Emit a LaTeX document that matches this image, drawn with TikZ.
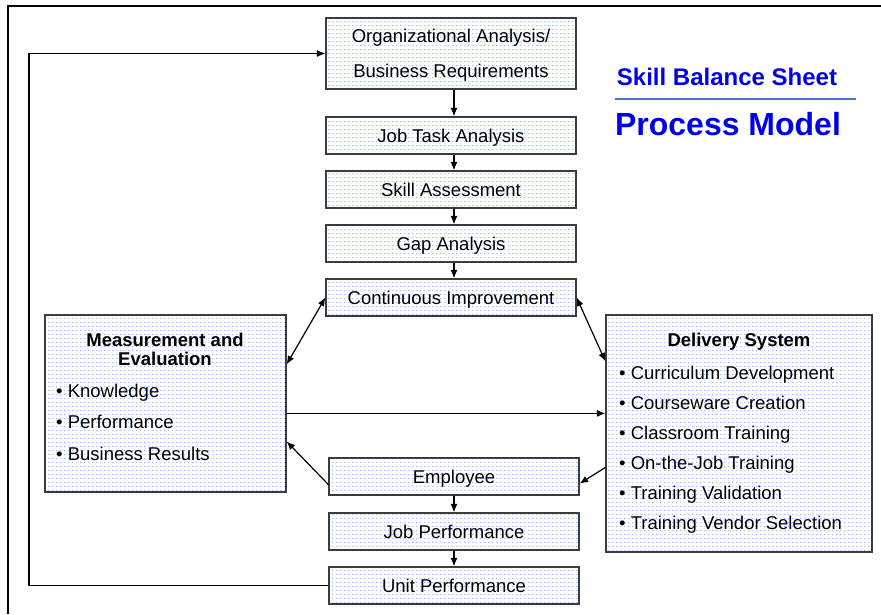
\documentclass[tikz,border=0pt]{standalone}
\usepackage{fontspec}
\setmainfont{Liberation Sans}
\usetikzlibrary{arrows.meta,calc,patterns}

% light blue dotted grid used as box fill
\pgfdeclarepatternformonly{griddots}{\pgfpointorigin}{\pgfpoint{4pt}{4pt}}{\pgfpoint{4pt}{4pt}}%
  {\pgfpathrectangle{\pgfpointorigin}{\pgfpoint{1.6pt}{1.2pt}}\pgfusepath{fill}}

\definecolor{dotblue}{RGB}{150,195,245}
\definecolor{boxline}{RGB}{60,60,60}
\definecolor{titleblue}{RGB}{0,0,235}
\definecolor{ruleblue}{RGB}{70,120,210}

\tikzset{
  procbox/.style={draw=boxline, line width=1.2pt, pattern=griddots, pattern color=dotblue,
    minimum width=250pt, minimum height=37pt, inner sep=0pt,
    font=\fontsize{18.5}{22}\selectfont, text height=13.2pt, text depth=0pt},
  bigbox/.style={draw=boxline, line width=1.2pt, pattern=griddots, pattern color=dotblue, inner sep=0pt},
  headtext/.style={font=\bfseries\fontsize{18.5}{19}\selectfont, inner sep=0pt, anchor=base},
  itemtext/.style={font=\fontsize{18.5}{22}\selectfont, inner sep=0pt, anchor=base west},
  arr/.style={-{Latex[length=8.5pt,width=7pt]}, line width=1.2pt},
  darr/.style={{Latex[length=8.5pt,width=7pt]}-{Latex[length=8.5pt,width=7pt]}, line width=1.2pt},
}

\begin{document}
\begin{tikzpicture}[x=1pt,y=-1pt]
\useasboundingbox (0,0) rectangle (881,614);

% outer frame
\draw[line width=1.6pt] (8,614) -- (8,6) -- (881,6);

% title
\node[font=\bfseries\fontsize{24}{26}\selectfont, text=titleblue, inner sep=0pt, anchor=base] (t1) at (727,85) {Skill Balance Sheet};
\draw[ruleblue, line width=2.5pt] (615,99) -- (856,99);
\node[font=\bfseries\fontsize{32}{34}\selectfont, text=titleblue, inner sep=0pt, anchor=base] (t2) at (728,135) {Process Model};

% main column
\node[procbox, minimum height=71pt, align=center, font=\fontsize{18.5}{35}\selectfont,
      text height=48.2pt, text depth=0pt] (org) at (451,53.5)
  {Organizational Analysis/\\Business Requirements};
\node[procbox] (jta) at (451,135.5) {Job Task Analysis};
\node[procbox] (ska) at (451,189.5) {Skill Assessment};
\node[procbox] (gap) at (451,243.5) {Gap Analysis};
\node[procbox] (ci)  at (451,297.5) {Continuous Improvement};
\node[procbox] (emp) at (454,476.5) {Employee};
\node[procbox] (jp)  at (454,531.5) {Job Performance};
\node[procbox] (up)  at (454,585.5) {Unit Performance};

% side boxes
\node[bigbox, minimum width=241pt, minimum height=177pt] (meas) at (165.5,403.5) {};
\node[headtext] (mh1) at (165,346) {Measurement and};
\node[headtext] (mh2) at (165,365) {Evaluation};
\node[itemtext] (m1) at (56,397) {• Knowledge};
\node[itemtext] (m2) at (56,428.5) {• Performance};
\node[itemtext] (m3) at (56,460) {• Business Results};

\node[bigbox, minimum width=266pt, minimum height=237pt] (dlv) at (739,433.5) {};
\node[headtext] (dh) at (739,346) {Delivery System};
\node[itemtext] (d1) at (619,379) {• Curriculum Development};
\node[itemtext] (d2) at (619,409) {• Courseware Creation};
\node[itemtext] (d3) at (619,439.5) {• Classroom Training};
\node[itemtext] (d4) at (619,469.5) {• On-the-Job Training};
\node[itemtext] (d5) at (619,499) {• Training Validation};
\node[itemtext] (d6) at (619,529) {• Training Vendor Selection};

% vertical flow
\draw[arr] (org.south -| emp.center) -- (jta.north -| emp.center);
\draw[arr] (jta.south -| emp.center) -- (ska.north -| emp.center);
\draw[arr] (ska.south -| emp.center) -- (gap.north -| emp.center);
\draw[arr] (gap.south -| emp.center) -- (ci.north -| emp.center);
\draw[arr] (emp.south) -- (jp.north);
\draw[arr] (jp.south) -- (up.north);

% improvement links
\draw[darr] (ci.west) -- ($(meas.north east)+(0,50)$);
\draw[darr] (ci.east) -- ($(dlv.north west)+(0,47)$);
\draw[arr] ($(meas.north east)+(0,99)$) -- ($(dlv.north west)+(0,99)$);
\draw[arr] ($(emp.south west)+(0,-11)$) -- ($(meas.north east)+(0,127)$);
\draw[arr] ($(dlv.north west)+(0,153)$) -- ($(emp.south east)+(0,-12)$);

% feedback loop
\coordinate (fb) at (29,300);
\draw[arr] (up.west) -| (fb) |- (org.west);
\end{tikzpicture}
\end{document}
